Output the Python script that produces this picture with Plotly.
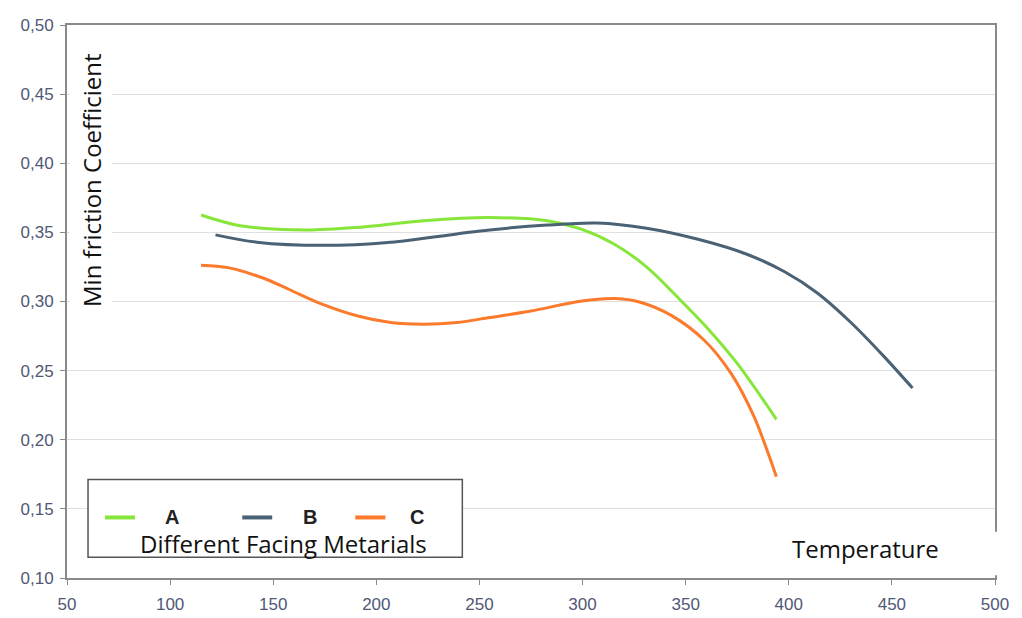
import plotly.graph_objects as go

# curve data
temp_a = [115, 134, 166, 191, 223, 255, 283, 299, 315, 331, 348, 361, 375, 394]
fric_a = [0.3626, 0.3548, 0.3517, 0.3536, 0.3584, 0.3607, 0.3584, 0.3525, 0.3418,
          0.3251, 0.3002, 0.2800, 0.2552, 0.2148]

temp_b = [122, 142, 174, 207, 239, 255, 283, 307, 331, 356, 380, 398, 414, 430, 446, 460]
fric_b = [0.3482, 0.3429, 0.3406, 0.3429, 0.3489, 0.3518, 0.3553, 0.3567, 0.3530,
          0.3450, 0.3340, 0.3215, 0.3060, 0.2850, 0.2605, 0.2374]

temp_c = [115, 128, 145, 158, 174, 191, 207, 223, 239, 255, 275, 299, 316, 328, 343, 359, 372, 383, 394]
fric_c = [0.3263, 0.3245, 0.3170, 0.3085, 0.2979, 0.2895, 0.2848, 0.2836, 0.2848, 0.2884,
          0.2931, 0.3002, 0.3021, 0.2995, 0.2900, 0.2720, 0.2480, 0.2172, 0.1733]

names = ['A', 'B', 'C']
colors = ['#86e63a', '#4b6275', '#fb7a2c']

x_ticks = list(range(50, 501, 50))
y_ticks = [0.10, 0.15, 0.20, 0.25, 0.30, 0.35, 0.40, 0.45, 0.50]

fig = go.Figure()

for name, xs, ys, color in zip(names, [temp_a, temp_b, temp_c], [fric_a, fric_b, fric_c], colors):
    fig.add_trace(go.Scatter(
        x=xs, y=ys, mode='lines', name=name,
        line=dict(color=color, width=3, shape='spline', smoothing=0.9),
        showlegend=False
    ))

tick_font = dict(family='Liberation Sans', size=17, color='#505876')
title_font = dict(family='Open Sans', size=24, color='#111111')

fig.update_layout(
    width=1022, height=618,
    margin=dict(l=59, r=35, t=8, b=48),
    plot_bgcolor='white', paper_bgcolor='white',
    separators=',.',
    xaxis=dict(
        range=[50, 500], tickvals=x_ticks, showgrid=False,
        showline=True, linecolor='#8a8a8a', linewidth=2, mirror=True,
        ticks='outside', ticklen=5, tickcolor='#8a8a8a', tickfont=tick_font,
        ticklabelstandoff=5, zeroline=False
    ),
    yaxis=dict(
        range=[0.10, 0.50], tickvals=y_ticks, tickformat='.2f',
        showgrid=True, gridcolor='#e0e0e0', gridwidth=1,
        showline=True, linecolor='#8a8a8a', linewidth=2, mirror=True,
        ticks='outside', ticklen=5, tickcolor='#8a8a8a', tickfont=tick_font,
        ticklabelstandoff=3, zeroline=False
    ),
)

# white patch behind the y title (hides the start of the gridlines)
fig.add_shape(type='rect', xref='paper', yref='paper',
              x0=0.003, x1=0.0485, y0=0.477, y1=0.995,
              fillcolor='white', line=dict(width=0), layer='above')

# white patch behind the "Temperature" label (covers the right border)
fig.add_shape(type='rect', xref='paper', yref='paper',
              x0=0.78, x1=1.03, y0=0.005, y1=0.0836,
              fillcolor='white', line=dict(width=0), layer='above')

# legend box drawn by hand
fig.add_shape(type='rect', xref='x', yref='y',
              x0=60.2, x1=241.7, y0=0.1150, y1=0.1712,
              fillcolor='white', line=dict(color='#555555', width=1.5), layer='above')

legend_x = [[68.4, 83.0], [135.0, 149.5], [189.8, 204.4]]
label_x = [101.0, 168.0, 219.9]
for name, color, (x0, x1), lx in zip(names, colors, legend_x, label_x):
    fig.add_shape(type='line', xref='x', yref='y', x0=x0, x1=x1, y0=0.1438, y1=0.1438,
                  line=dict(color=color, width=4), layer='above')
    fig.add_annotation(x=lx, y=0.1438, xref='x', yref='y', text='<b>' + name + '</b>',
                       showarrow=False, font=dict(family='Liberation Sans', size=20, color='#222222'))

fig.add_annotation(x=154.9, y=0.1249, xref='x', yref='y', text='Different Facing Metarials',
                   showarrow=False, font=title_font, xanchor='center', yanchor='middle')

fig.add_annotation(x=0.86, y=0.0534, xref='paper', yref='paper', text='Temperature',
                   showarrow=False, font=title_font, xanchor='center', yanchor='middle')

fig.add_annotation(x=0.0265, y=0.719, xref='paper', yref='paper', text='Min friction Coefficient',
                   textangle=-90, showarrow=False, font=title_font,
                   xanchor='center', yanchor='middle')

fig.write_html('out.html')
